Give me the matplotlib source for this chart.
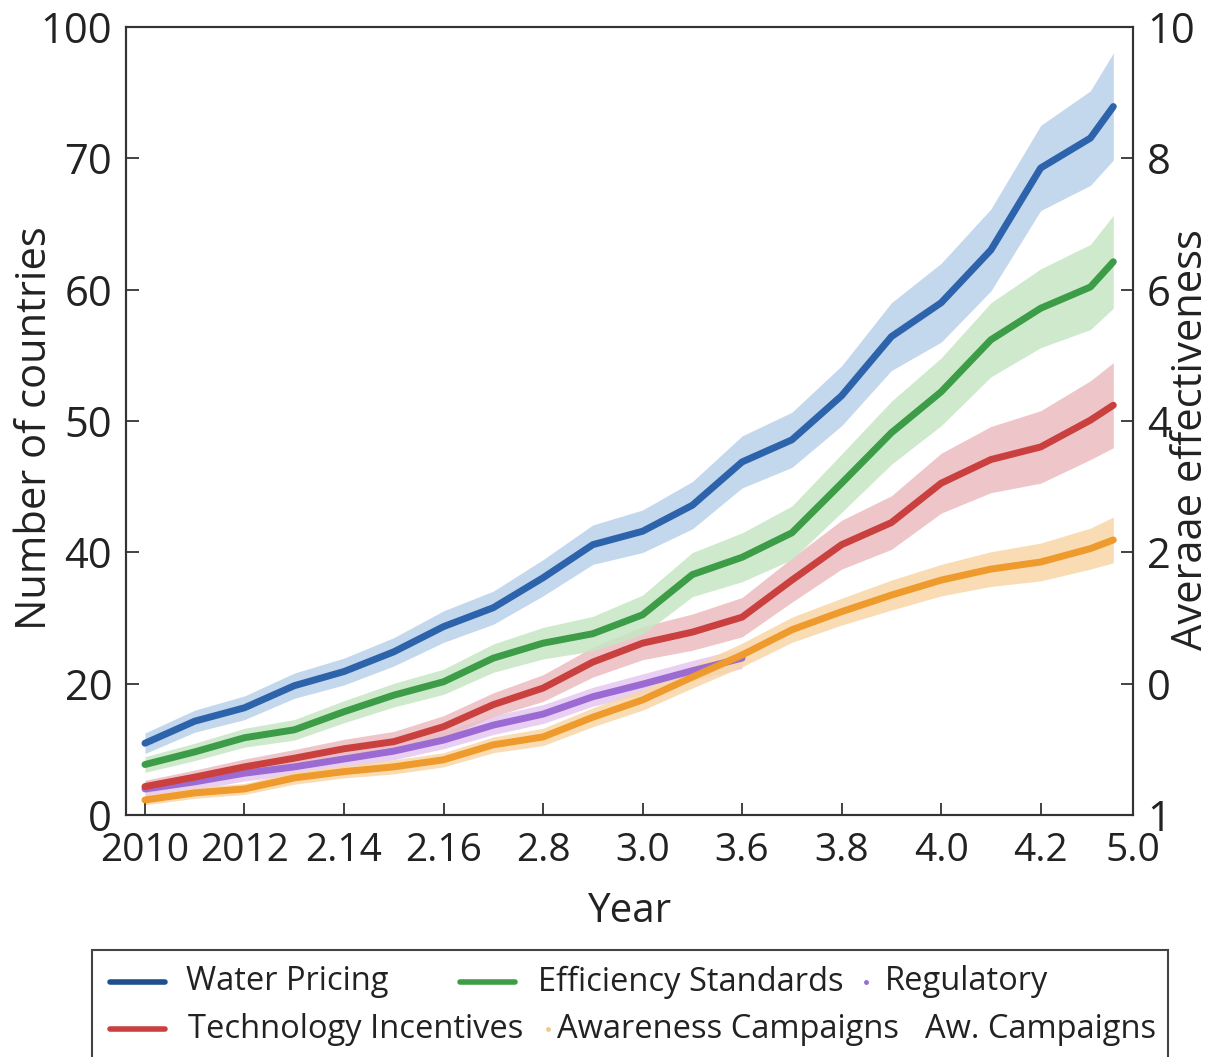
import matplotlib
matplotlib.use("Agg")
import matplotlib.pyplot as plt
from matplotlib.lines import Line2D
from matplotlib.patches import Rectangle
import numpy as np

plt.rcParams['font.family'] = ['Open Sans', 'DejaVu Sans']

# ---- data ----
years = [2010, 2010.5, 2011, 2011.5, 2012, 2012.5, 2013, 2013.5, 2014, 2014.5,
         2015, 2015.5, 2016, 2016.5, 2017, 2017.5, 2018, 2018.5, 2019, 2019.5, 2019.73]

water_pricing = [9.1, 11.9, 13.6, 16.4, 18.2, 20.7, 23.9, 26.3, 30.1, 34.3,
                 36.0, 39.3, 44.8, 47.6, 53.2, 60.7, 65.0, 71.7, 82.1, 85.9, 89.9]
water_err = [1.3, 1.4, 1.5, 1.6, 1.7, 1.8, 2.0, 2.1, 2.3, 2.5,
             2.7, 3.0, 3.3, 3.5, 3.8, 4.3, 5.0, 5.2, 5.4, 6.0, 6.8]

efficiency = [6.4, 8.0, 9.8, 10.8, 13.1, 15.2, 16.9, 19.9, 21.8, 23.0,
              25.4, 30.5, 32.7, 35.8, 42.1, 48.5, 53.7, 60.3, 64.3, 67.0, 70.2]
efficiency_err = [1.0, 1.1, 1.2, 1.3, 1.4, 1.5, 1.6, 1.8, 2.0, 2.2,
                  2.5, 2.8, 3.1, 3.4, 3.7, 4.0, 4.3, 4.7, 5.0, 5.4, 5.9]

technology = [3.6, 4.8, 6.1, 7.2, 8.4, 9.3, 11.2, 14.0, 16.1, 19.4,
              21.8, 23.2, 25.1, 29.8, 34.3, 37.1, 42.1, 45.1, 46.7, 50.1, 52.0]
technology_err = [0.8, 0.9, 1.0, 1.1, 1.2, 1.3, 1.4, 1.5, 1.7, 1.9,
                  2.1, 2.3, 2.5, 2.8, 3.1, 3.4, 3.8, 4.2, 4.6, 5.0, 5.4]

regulatory_years = years[:13]
regulatory = [3.3, 4.2, 5.3, 6.1, 7.1, 8.1, 9.5, 11.4, 12.8, 15.0, 16.6, 18.3, 19.9]
regulatory_err = [1.0, 1.0, 1.0, 1.0, 1.1, 1.1, 1.1, 1.2, 1.2, 1.2, 1.3, 1.3, 1.3]

awareness = [1.9, 2.8, 3.3, 4.7, 5.5, 6.1, 7.0, 8.9, 9.9, 12.4,
             14.6, 17.5, 20.3, 23.5, 25.8, 27.9, 29.8, 31.2, 32.1, 33.8, 34.9]
awareness_err = [0.6, 0.7, 0.7, 0.8, 0.8, 0.9, 0.9, 1.0, 1.1, 1.2,
                 1.3, 1.4, 1.5, 1.6, 1.7, 1.9, 2.0, 2.2, 2.4, 2.6, 2.9]

x_ticks = [2010, 2011, 2012, 2013, 2014, 2015, 2016, 2017, 2018, 2019, 2019.93]
x_labels = ['2010', '2012', '2.14', '2.16', '2.8', '3.0', '3.6', '3.8', '4.0', '4.2', '5.0']
y_ticks = [0, 16.667, 33.333, 50, 66.667, 83.333, 100]
y_left_labels = ['0', '20', '40', '50', '60', '70', '100']
y_right_labels = ['1', '0', '2', '4', '6', '8', '10']

# ---- figure ----
fig = plt.figure(figsize=(12.12, 10.57), dpi=100)
ax = fig.add_axes([0.104, 0.229, 0.831, 0.7455])

series = [
    (regulatory_years, regulatory, regulatory_err, '#9b6bd3', '#e6c8f2'),
    (years, awareness, awareness_err, '#ee9a2c', '#f9d6a6'),
    (years, technology, technology_err, '#c9403f', '#ecbcc0'),
    (years, efficiency, efficiency_err, '#3d9c47', '#c6e6c4'),
    (years, water_pricing, water_err, '#2c63ab', '#b9d0ea'),
]
for xs, ys, err, c, fc in series:
    xs = np.array(xs); ys = np.array(ys); err = np.array(err)
    ax.fill_between(xs, ys - err, ys + err, color=fc, alpha=0.85, lw=0)
for xs, ys, err, c, fc in series:
    ax.plot(xs, ys, color=c, lw=5, solid_capstyle='round', solid_joinstyle='round')

ax.set_xlim(2009.81, 2019.93)
ax.set_ylim(0, 100)
ax.set_xticks(x_ticks)
ax.set_xticklabels(x_labels)
ax.set_yticks(y_ticks)
ax.set_yticklabels(y_left_labels)
ax.tick_params(axis='both', direction='in', length=9, width=1.2, colors='#222')
ax.tick_params(axis='x', pad=12, labelsize=28)
ax.tick_params(axis='y', pad=10, labelsize=30)
for s in ax.spines.values():
    s.set_color('#333')
    s.set_linewidth(1.5)

ax.set_xlabel('Year', fontsize=29, color='#222')
ax.xaxis.set_label_coords(0.5, -0.097)
ax.set_ylabel('Number of countries', fontsize=30, color='#222', va='center', ha='center')
ax.yaxis.set_label_coords(-0.090, 0.491)

ax2 = ax.twinx()
ax2.set_ylim(0, 100)
ax2.set_yticks(y_ticks)
ax2.set_yticklabels(y_right_labels)
ax2.tick_params(axis='y', direction='in', length=9, width=1.2, labelsize=30, colors='#222', pad=10)
for s in ax2.spines.values():
    s.set_color('#333')
    s.set_linewidth(1.5)
ax2.set_ylabel('Averaae effectiveness', fontsize=30, color='#222', va='center', ha='center',
               rotation=90)
ax2.yaxis.set_label_coords(1.057, 0.477)

# ---- legend (drawn by hand, its rows are not aligned in columns) ----
W, H = 1212, 1057
def fx(px): return px / W
def fy(py): return 1 - py / H

fig.add_artist(Rectangle((fx(92), -0.02), fx(1168) - fx(92), fy(950) + 0.02,
                         transform=fig.transFigure, fill=False, ec='#444', lw=1.5))

row1, row2 = fy(982), fy(1029)
leg_size = 23.5
def handle_line(x0, x1, y, c):
    fig.add_artist(Line2D([fx(x0), fx(x1)], [y, y], transform=fig.transFigure,
                          color=c, lw=4, solid_capstyle='round'))
def handle_dot(x, y, c):
    fig.add_artist(Line2D([fx(x)], [y], transform=fig.transFigure, color=c,
                          marker='o', ms=2.5, ls='none'))

handle_line(110, 165, row1, '#1f4f8f')
fig.text(fx(186), row1, 'Water Pricing', fontsize=leg_size, va='center', color='#222')
handle_line(460, 515, row1, '#3d9c47')
fig.text(fx(538), row1, 'Efficiency Standards', fontsize=leg_size, va='center', color='#222')
handle_dot(866, row1, '#9b6bd3')
fig.text(fx(885), row1, 'Regulatory', fontsize=leg_size, va='center', color='#222')

handle_line(110, 165, row2, '#c9403f')
fig.text(fx(188), row2, 'Technology Incentives', fontsize=leg_size, va='center', color='#222')
handle_dot(548, row2, '#f3c98a')
fig.text(fx(557), row2, 'Awareness Campaigns', fontsize=leg_size, va='center', color='#222')
fig.text(fx(925), row2, 'Aw. Campaigns', fontsize=leg_size, va='center', color='#222')

fig.savefig('out.png', dpi=100)
